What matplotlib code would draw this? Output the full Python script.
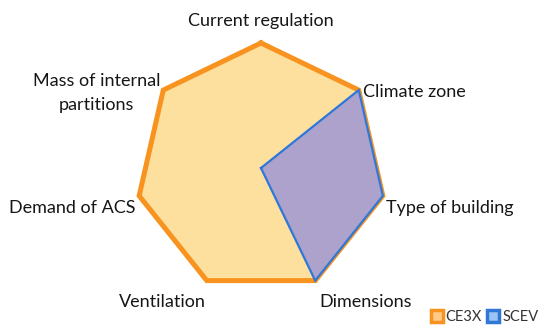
import numpy as np
import matplotlib.pyplot as plt
from matplotlib.lines import Line2D

plt.rcParams['font.family'] = ['Lato', 'DejaVu Sans']

# axes, clockwise from the top
categories = ['Current regulation', 'Climate zone', 'Type of building', 'Dimensions',
              'Ventilation', 'Demand of ACS', 'Mass of internal\npartitions']
ce3x = [1, 1, 1, 1, 1, 1, 1]
scev = [0, 1, 1, 1, 0, 0, 0]

# label offsets in pixels from each vertex, and alignment
label_offsets = [(0, 22), (4, -2), (3, -12), (4, -21), (-1, -21), (-4, -12), (-3, -3)]
label_ha = ['center', 'left', 'left', 'left', 'right', 'right', 'right']

orange = '#f7931e'
orange_fill = '#fde09e'
blue = '#2f78d8'
purple_fill = '#aca2cb'


def closed(vals):
    return list(vals) + [vals[0]]


def main():
    n = len(categories)
    theta = np.linspace(0, 2 * np.pi, n, endpoint=False)
    th = closed(theta)

    fig = plt.figure(figsize=(5.5, 3.36), dpi=100)
    ax = fig.add_axes([0.2473, 0.128, 0.4545, 0.744], projection='polar')
    ax.set_theta_offset(np.pi / 2)
    ax.set_theta_direction(-1)
    ax.set_ylim(0, 1)
    ax.axis('off')

    ax.fill(th, closed(ce3x), color=orange_fill, zorder=1)
    ax.plot(th, closed(ce3x), color=orange, lw=3.6, solid_joinstyle='miter',
            clip_on=False, zorder=2)
    ax.fill(th, closed(scev), color=purple_fill, zorder=3)
    ax.plot(th, closed(scev), color=blue, lw=1.6, solid_joinstyle='miter',
            clip_on=False, zorder=4)

    for t, lab, off, ha in zip(theta, categories, label_offsets, label_ha):
        ax.annotate(lab, xy=(t, 1), xytext=off, textcoords='offset pixels',
                    ha=ha, va='center', multialignment='center', linespacing=1.55,
                    fontsize=13, color='#161616', annotation_clip=False)

    handles = [
        Line2D([], [], ls='', marker='s', markersize=9, markerfacecolor='#ffc98a',
               markeredgecolor=orange, markeredgewidth=2.5),
        Line2D([], [], ls='', marker='s', markersize=9, markerfacecolor='#9cc4f2',
               markeredgecolor=blue, markeredgewidth=2.5),
    ]
    fig.legend(handles, ['CE3X', 'SCEV'], loc='lower right', ncol=2, frameon=False,
               bbox_to_anchor=(1.0, 0.0), fontsize=10.5, handlelength=0.8,
               handletextpad=0.2, columnspacing=0.4, borderpad=0.3,
               labelcolor='#333333')

    fig.savefig('out.png', dpi=100)


if __name__ == '__main__':
    main()
